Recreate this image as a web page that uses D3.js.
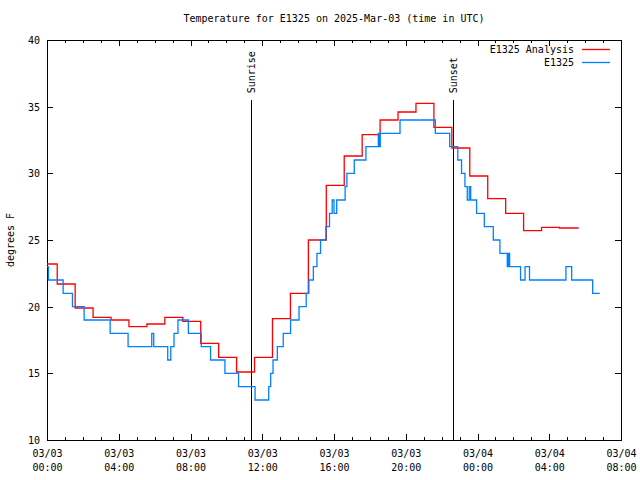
<!DOCTYPE html>
<html><head><meta charset="utf-8">
<script src="https://cdn.jsdelivr.net/npm/d3@7"></script>
<style>
body{margin:0;background:#fff;}
text{font-family:"DejaVu Sans Mono","Liberation Mono",monospace;font-size:10px;fill:#000;}
</style></head>
<body><svg id="c" width="640" height="480"></svg>
<script>
// ---- data (hours after 2025-03-03 00:00 UTC) ----
const titleText = "Temperature for E1325 on 2025-Mar-03 (time in UTC)";
const yLabel = "degrees F";
const seriesNames = ["E1325 Analysis", "E1325"];
const analysisHours = [0.00,0.57,1.57,2.57,3.57,4.57,5.57,6.57,7.57,8.57,9.57,10.57,11.57,12.57,13.57,14.57,15.57,16.57,17.57,18.57,19.57,20.57,21.57,22.57,23.57,24.57,25.57,26.57,27.57,28.57,29.64];
const analysisTemps = [23.2,21.7,19.9,19.2,19.0,18.5,18.7,19.2,18.9,17.25,16.2,15.1,16.2,19.1,21.0,25.0,29.1,31.3,32.9,34.0,34.6,35.25,33.45,31.9,29.8,28.1,27.0,25.7,25.95,25.9,25.9];
const obsHours = [0.00,0.08,0.90,1.42,2.07,3.52,4.52,5.84,5.95,6.73,6.90,7.08,7.30,7.88,8.60,9.12,9.92,10.68,11.60,12.36,12.47,12.60,12.84,13.17,13.58,14.05,14.45,14.60,14.85,15.05,15.25,15.55,15.75,15.90,16.00,16.15,16.62,16.72,17.13,17.78,18.47,18.52,18.58,19.68,21.65,22.45,22.90,23.11,23.30,23.43,23.54,23.62,23.95,24.38,24.88,25.25,25.66,25.72,25.79,26.40,26.65,26.90,28.93,29.25,30.42,30.82];
const obsTemps = [23,22,21,20,19,18,17,18,17,16,17,18,19,18,17,16,15,14,13,14,15,16,17,18,19,20,21,22,23,24,25,26,27,28,27,28,29,30,31,32,33,32,33,34,33,32,31,30,29,28,29,28,27,26,25,24,23,24,23,22,23,22,23,22,21,21];
const sunEvents = [{name:"Sunrise", hour:11.40},{name:"Sunset", hour:22.65}];
const yTicks = [10,15,20,25,30,35,40];
const xMajorHours = [0,4,8,12,16,20,24,28,32];

// ---- layout ----
const L=47, R=621, T=40, B=440;
const base = Date.UTC(2025,2,3,0,0);
const toDate = h => new Date(base + h*3600000);
const svg = d3.select("#c");
const x = d3.scaleUtc().domain([toDate(0), toDate(32)]).range([L,R]);
const y = d3.scaleLinear().domain([10,40]).range([B,T]);

svg.append("text").attr("x",(L+R)/2).attr("y",19).attr("text-anchor","middle")
  .attr("dominant-baseline","middle").text(titleText);

svg.append("text").attr("transform","translate(11,240) rotate(-90)")
  .attr("text-anchor","middle").attr("dominant-baseline","middle").text(yLabel);

const minorDates = d3.range(0,33).map(toDate);
const majorDates = xMajorHours.map(toDate);
function styleAxis(g){ g.select(".domain").remove(); g.selectAll("line").attr("stroke","#000").attr("shape-rendering","crispEdges"); }

// minor ticks bottom/top
svg.append("g").attr("transform",`translate(0,${B})`)
  .call(d3.axisBottom(x).tickValues(minorDates).tickSize(-3).tickFormat(""))
  .call(styleAxis);
svg.append("g").attr("transform",`translate(0,${T})`)
  .call(d3.axisTop(x).tickValues(minorDates).tickSize(-3).tickFormat(""))
  .call(styleAxis);
// major ticks
const fmtD = d3.utcFormat("%m/%d"), fmtT = d3.utcFormat("%H:%M");
const xb = svg.append("g").attr("transform",`translate(0,${B})`)
  .call(d3.axisBottom(x).tickValues(majorDates).tickSize(-6).tickFormat(""))
  .call(styleAxis);
xb.selectAll(".tick").each(function(d){
  const t = d3.select(this).append("text").attr("text-anchor","middle");
  t.append("tspan").attr("x",0).attr("y",17).text(fmtD(d));
  t.append("tspan").attr("x",0).attr("y",31).text(fmtT(d));
});
svg.append("g").attr("transform",`translate(0,${T})`)
  .call(d3.axisTop(x).tickValues(majorDates).tickSize(-6).tickFormat(""))
  .call(styleAxis);

// y axes
const yl = svg.append("g").attr("transform",`translate(${L},0)`)
  .call(d3.axisLeft(y).tickValues(yTicks).tickSize(-6).tickPadding(7))
  .call(styleAxis);
yl.selectAll("text").attr("font-size",null).attr("font-family",null).attr("dy","0.35em");
yl.attr("font-size",null).attr("font-family",null);
svg.append("g").attr("transform",`translate(${R},0)`)
  .call(d3.axisRight(y).tickValues(yTicks).tickSize(-6).tickFormat(""))
  .call(styleAxis);
xb.attr("font-size",null).attr("font-family",null);

// frame
svg.append("rect").attr("x",L+0.5).attr("y",T+0.5).attr("width",R-L).attr("height",B-T)
  .attr("fill","none").attr("stroke","#000").attr("shape-rendering","crispEdges");

// sun lines
sunEvents.forEach(s=>{
  const xx = x(toDate(s.hour));
  svg.append("line").attr("x1",xx).attr("x2",xx).attr("y1",y(10)).attr("y2",y(35.5))
    .attr("stroke","#000").attr("shape-rendering","crispEdges");
  svg.append("text").attr("transform",`translate(${xx+0.5},${y(36)}) rotate(-90)`)
    .attr("dominant-baseline","middle").text(s.name);
});

// series
const line = d3.line().x(d=>x(toDate(d[0]))).y(d=>y(d[1])).curve(d3.curveStepAfter);
const redData = d3.zip(analysisHours, analysisTemps);
const blueData = d3.zip(obsHours, obsTemps);
svg.append("path").datum(redData).attr("d",line).attr("fill","none")
  .attr("stroke","#ff0000").attr("stroke-width",1.3);
svg.append("path").datum(blueData).attr("d",line).attr("fill","none")
  .attr("stroke","#0080ff").attr("stroke-width",1.3);

// legend
const colors = ["#ff0000","#0080ff"];
seriesNames.forEach((n,i)=>{
  const yy = 49.5 + i*13;
  svg.append("text").attr("x",574).attr("y",yy).attr("text-anchor","end")
    .attr("dominant-baseline","middle").text(n);
  svg.append("line").attr("x1",582).attr("x2",610).attr("y1",yy).attr("y2",yy)
    .attr("stroke",colors[i]).attr("stroke-width",1.3);
});
</script></body></html>
